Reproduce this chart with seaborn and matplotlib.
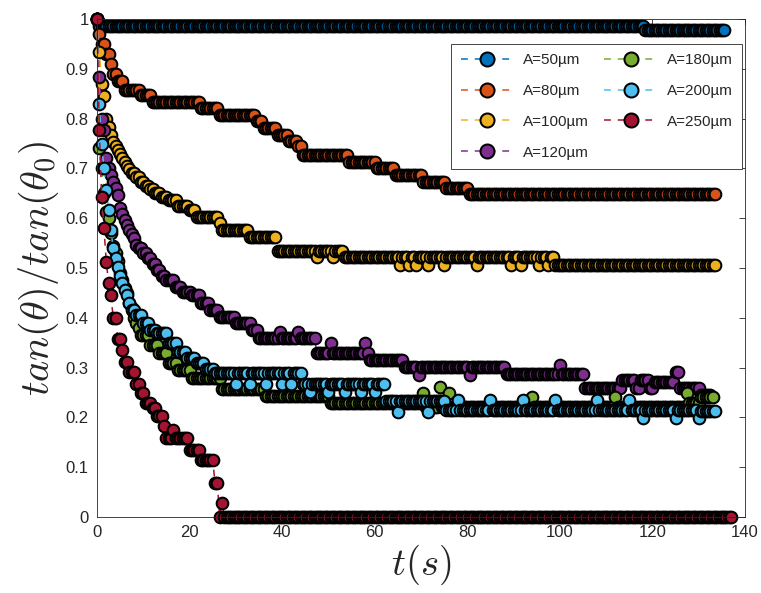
import numpy as np
import pandas as pd
import matplotlib
matplotlib.use("Agg")
import matplotlib.pyplot as plt
import seaborn as sns
from matplotlib.ticker import FuncFormatter, MultipleLocator

# ---------------- data ----------------
DT = 0.5  # frame interval in seconds

labels = ["A=50µm", "A=80µm", "A=100µm", "A=120µm", "A=180µm", "A=200µm", "A=250µm"]
colors = ["#0072BD", "#D95319", "#EDB120", "#7E2F8E", "#77AC30", "#4DBEEE", "#A2142F"]

# each series: plateau values and number of consecutive frames at that value
val_50 = [1.0, 0.986, 0.978]
run_50 = [1, 236, 35]

val_80 = [1.0, 0.970, 0.950, 0.930, 0.910, 0.890, 0.875, 0.858, 0.848, 0.834, 0.822, 0.808,
          0.795, 0.781, 0.768, 0.756, 0.744, 0.727, 0.713, 0.700, 0.687, 0.673, 0.661, 0.648]
run_80 = [1, 1, 2, 2, 1, 2, 3, 7, 5, 21, 8, 16, 3, 6, 5, 4, 2, 20, 12, 8, 12, 10, 10, 107]

val_100 = [1.0, 0.934, 0.870, 0.845, 0.800, 0.784, 0.767, 0.754, 0.745, 0.737, 0.728, 0.720,
           0.712, 0.705, 0.698, 0.690, 0.682, 0.673, 0.665, 0.658, 0.650, 0.643, 0.636, 0.625,
           0.616, 0.603, 0.590, 0.576, 0.563, 0.535, 0.522, 0.535, 0.522, 0.535,
           0.522, 0.507, 0.522, 0.507, 0.522, 0.507, 0.522, 0.507, 0.522, 0.507, 0.522,
           0.507, 0.522, 0.507, 0.522, 0.507, 0.522, 0.507, 0.522, 0.507, 0.522, 0.507]
run_100 = [1, 1, 1, 1, 1, 1, 1, 1, 1, 1, 1, 1,
           1, 1, 1, 2, 2, 2, 2, 2, 3, 3, 4, 5,
           3, 10, 1, 12, 12, 17, 1, 6, 1, 4,
           24, 1, 3, 1, 2, 1, 4, 1, 6, 1, 13,
           1, 14, 1, 3, 1, 7, 1, 3, 1, 2, 70]

val_120 = [1.0, 0.884, 0.800, 0.777, 0.720, 0.700, 0.686, 0.673, 0.660, 0.647, 0.620, 0.608,
           0.596, 0.586, 0.576, 0.568, 0.560, 0.546, 0.540, 0.530, 0.520, 0.508, 0.496, 0.483,
           0.476, 0.462, 0.452, 0.446, 0.430, 0.416, 0.402, 0.389, 0.375,
           0.359, 0.372, 0.359, 0.372, 0.359,
           0.329, 0.349, 0.329, 0.349, 0.329, 0.315,
           0.302, 0.285, 0.302, 0.285, 0.302,
           0.287, 0.305, 0.287,
           0.260, 0.275, 0.260, 0.275, 0.260, 0.272, 0.292, 0.260, 0.245]
run_120 = [1, 1, 1, 1, 1, 1, 1, 1, 1, 1, 1, 1,
           1, 1, 1, 1, 1, 1, 2, 2, 2, 2, 2, 2,
           4, 3, 4, 4, 4, 4, 7, 7, 3,
           9, 1, 7, 1, 7,
           6, 1, 14, 1, 1, 15,
           6, 1, 21, 1, 15,
           23, 1, 10,
           16, 6, 2, 4, 2, 9, 2, 9, 5]

val_180 = [1.0, 0.741, 0.700, 0.650, 0.613, 0.600, 0.570, 0.545, 0.530, 0.515, 0.490, 0.475,
           0.460, 0.450, 0.430, 0.420, 0.400, 0.390, 0.379, 0.365, 0.345, 0.330, 0.309, 0.295,
           0.279, 0.258, 0.242, 0.228, 0.248, 0.221, 0.262, 0.221, 0.248, 0.221, 0.240,
           0.221, 0.240, 0.221, 0.250, 0.228, 0.240]
run_180 = [1, 1, 1, 1, 1, 1, 1, 1, 1, 1, 1, 1,
           1, 1, 1, 1, 1, 1, 1, 4, 4, 4, 4, 6,
           13, 19, 28, 40, 1, 6, 1, 3, 1, 35, 1,
           35, 1, 30, 1, 5, 6]

val_200 = [1.0, 0.829, 0.750, 0.700, 0.657, 0.616, 0.576, 0.540, 0.520, 0.503, 0.483, 0.469,
           0.455, 0.446, 0.429, 0.416, 0.406, 0.389, 0.375, 0.369, 0.349, 0.332, 0.320, 0.309,
           0.298,
           0.289, 0.268, 0.289, 0.268, 0.289, 0.268, 0.289, 0.268, 0.289, 0.268, 0.289,
           0.268, 0.252, 0.268, 0.252, 0.268, 0.252, 0.268, 0.252, 0.268, 0.252, 0.268,
           0.232, 0.211, 0.232, 0.211, 0.232,
           0.215, 0.235, 0.215, 0.235, 0.215, 0.235, 0.215, 0.235, 0.215, 0.235, 0.215,
           0.235, 0.215, 0.199, 0.215, 0.199, 0.215, 0.199, 0.213]
run_200 = [1, 1, 1, 1, 1, 1, 1, 1, 1, 1, 1, 1,
           1, 1, 1, 2, 3, 3, 3, 5, 4, 4, 4, 4,
           4,
           9, 1, 5, 1, 6, 1, 6, 1, 3, 1, 4,
           3, 1, 7, 1, 6, 1, 6, 1, 5, 1, 4,
           5, 1, 12, 1, 7,
           5, 1, 13, 1, 13, 1, 13, 1, 17, 1, 13,
           1, 5, 1, 13, 1, 9, 1, 7]

val_250 = [1.0, 0.777, 0.643, 0.580, 0.513, 0.470, 0.446, 0.400, 0.357, 0.335, 0.312, 0.292,
           0.268, 0.249, 0.229, 0.219, 0.202, 0.182, 0.159, 0.175, 0.159, 0.135, 0.115, 0.068,
           0.0, 0.028, 0.0]
run_250 = [1, 1, 1, 1, 1, 1, 1, 2, 2, 1, 2, 3,
           2, 2, 3, 2, 3, 1, 3, 1, 6, 5, 6, 2,
           1, 1, 220]

series_vals = [val_50, val_80, val_100, val_120, val_180, val_200, val_250]
series_runs = [run_50, run_80, run_100, run_120, run_180, run_200, run_250]

frames = []
for lab, v, r in zip(labels, series_vals, series_runs):
    y = np.repeat(v, r)
    t = np.arange(len(y)) * DT
    frames.append(pd.DataFrame({"t": t, "ratio": y, "A": lab}))
df = pd.concat(frames, ignore_index=True)

# ---------------- plot ----------------
sns.set_theme(style="white")
plt.rcParams["font.family"] = ["Liberation Sans", "DejaVu Sans"]
plt.rcParams["mathtext.fontset"] = "cm"

fig = plt.figure(figsize=(7.61, 5.93), dpi=100)
ax = fig.add_axes([97 / 761, 1 - 517 / 593, (745 - 97) / 761, (517 - 19) / 593])

for lab, col in zip(labels, colors):
    sub = df[df["A"] == lab]
    sns.lineplot(data=sub, x="t", y="ratio", ax=ax, estimator=None, sort=False,
                 color=col, linestyle=(0, (4.5, 4.5)), linewidth=1.1,
                 marker="o", markersize=8.4, markerfacecolor=col,
                 markeredgecolor="black", markeredgewidth=1.45,
                 clip_on=False, label=lab, legend=False)

ax.set_xlim(0, 140)
ax.set_ylim(0, 1)
ax.xaxis.set_major_locator(MultipleLocator(20))
ax.yaxis.set_major_locator(MultipleLocator(0.1))
ax.yaxis.set_major_formatter(FuncFormatter(lambda v, p: f"{v:g}"))
ax.xaxis.set_major_formatter(FuncFormatter(lambda v, p: f"{v:g}"))

for s in ax.spines.values():
    s.set_visible(True)
    s.set_color("#262626")
    s.set_linewidth(0.6)
ax.tick_params(direction="in", length=4.5, width=0.6, colors="#262626",
               top=True, right=True, labelsize=12, pad=6)

ax.set_xlabel(r"$t(s)$", fontsize=28, color="#262626", labelpad=2)
ax.set_ylabel(r"$tan(\theta)/tan(\theta_0)$", fontsize=29, color="#262626", labelpad=3)

handles, hl = ax.get_legend_handles_labels()
leg = ax.legend(handles, hl, ncol=2, loc="upper right",
                bbox_to_anchor=((742 - 97) / (745 - 97), (517 - 44) / (517 - 19)),
                borderaxespad=0, fontsize=11, frameon=True, fancybox=False,
                edgecolor="#262626", framealpha=1, handlelength=3.5,
                handletextpad=0.6, labelspacing=1.1, columnspacing=1.0,
                borderpad=0.6, markerscale=1.2)
leg.get_frame().set_linewidth(0.6)

fig.savefig("out.png", dpi=100)
